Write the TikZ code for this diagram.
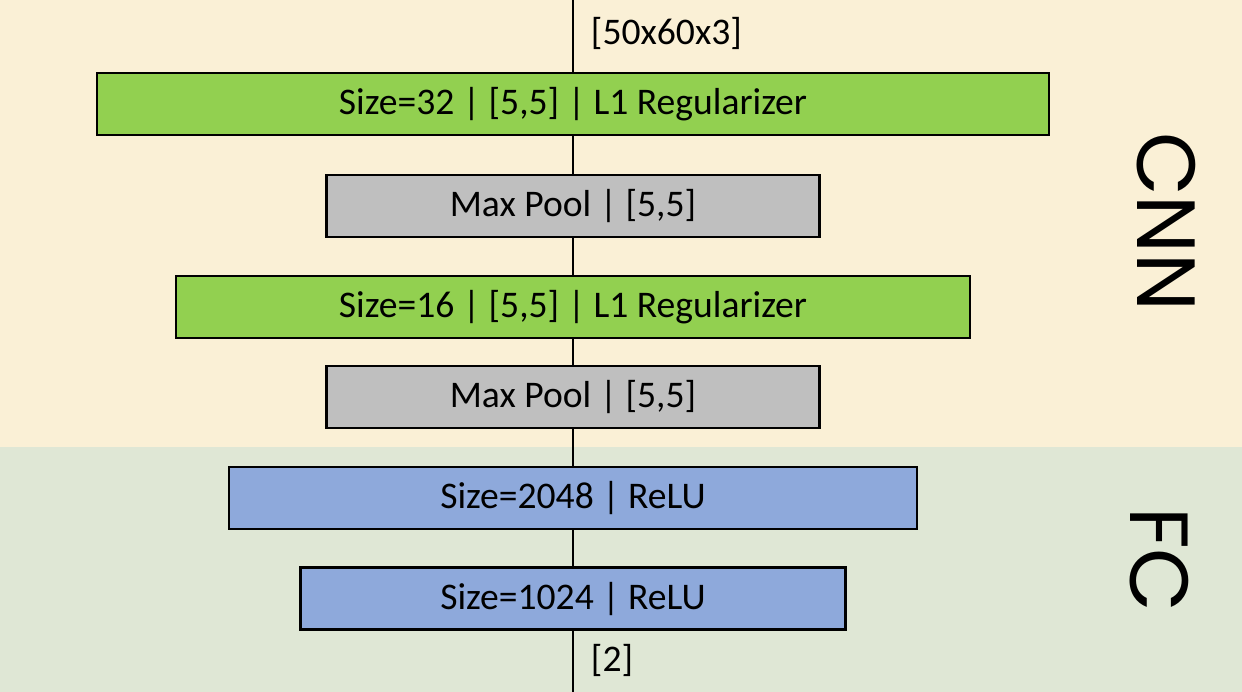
\documentclass[tikz,border=0pt]{standalone}
\usepackage{fontspec}
\setmainfont{Carlito}
\newfontfamily\bandfont{Poppins}
\usepackage{tikz}
\usetikzlibrary{positioning}
\definecolor{cnnbg}{HTML}{FAF0D6}
\definecolor{fcbg}{HTML}{DFE7D5}
\definecolor{convgreen}{HTML}{92D050}
\definecolor{poolgray}{HTML}{BFBFBF}
\definecolor{denseblue}{HTML}{8EA9DB}

\begin{document}
\begin{tikzpicture}[x=0.02cm, y=-0.02cm, line width=1.1pt,
	layer/.style={draw, line width=1.4pt, minimum height=1.24cm, inner sep=0pt,
		font=\fontsize{21.4}{25}\selectfont},
	conv/.style={layer, fill=convgreen},
	pool/.style={layer, fill=poolgray, minimum width=9.86cm},
	dense/.style={layer, fill=denseblue},
	dimlabel/.style={anchor=west, inner sep=0pt, font=\fontsize{21.4}{25}\selectfont},
	band/.style={rotate=-90, font=\bandfont\fontsize{47}{56}\selectfont}]
	\useasboundingbox (0, 0) rectangle (1242, 692);
	\fill[cnnbg] (0, 0) rectangle (1242, 447);
	\fill[fcbg] (0, 447) rectangle (1242, 692);

	\coordinate (in) at (573, 0);
	\coordinate (out) at (573, 692);
	\node[conv, minimum width=19.04cm] (convone) at (573, 104) {Size=32 | [5,5] | L1 Regularizer};
	\node[pool, below=0.75cm of convone] (poolone) {Max Pool | [5,5]};
	\node[conv, minimum width=15.88cm, below=0.73cm of poolone] (convtwo) {Size=16 | [5,5] | L1 Regularizer};
	\node[pool, below=0.51cm of convtwo] (pooltwo) {Max Pool | [5,5]};
	\node[dense, minimum width=13.76cm, below=0.73cm of pooltwo] (fcone) {Size=2048 | ReLU};
	\node[dense, minimum width=10.9cm, below=0.73cm of fcone] (fctwo) {Size=1024 | ReLU};

	\node[dimlabel] (inshape) at (590, 33) {[50x60x3]};
	\node[dimlabel] (outshape) at (590, 660) {[2]};

	\node[band] (cnn) at (1166, 222) {CNN};
	\node[band] (fc) at (1159, 560) {FC};

	\draw (in) -- (convone);
	\draw (convone) -- (poolone);
	\draw (poolone) -- (convtwo);
	\draw (convtwo) -- (pooltwo);
	\draw (pooltwo) -- (fcone);
	\draw (fcone) -- (fctwo);
	\draw (fctwo) -- (out);
\end{tikzpicture}
\end{document}
